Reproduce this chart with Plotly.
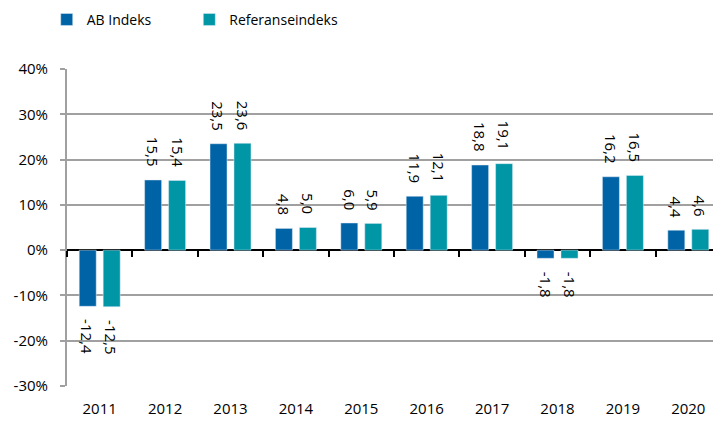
import plotly.graph_objects as go

years = ["2011", "2012", "2013", "2014", "2015", "2016", "2017", "2018", "2019", "2020"]
ab_indeks = [-12.4, 15.5, 23.5, 4.8, 6.0, 11.9, 18.8, -1.8, 16.2, 4.4]
referanseindeks = [-12.5, 15.4, 23.6, 5.0, 5.9, 12.1, 19.1, -1.8, 16.5, 4.6]
y_ticks = [-30, -20, -10, 0, 10, 20, 30, 40]
y_tick_labels = [f"{v}%" for v in y_ticks]

FONT = "Open Sans"
C_AB = "#0063a6"
C_REF = "#0096a6"
N = len(years)
boundaries = [i - 0.5 for i in range(N + 1)]

fig = go.Figure()
fig.add_trace(go.Bar(x=years, y=ab_indeks, name="AB Indeks", marker_color=C_AB, legend="legend"))
fig.add_trace(go.Bar(x=years, y=referanseindeks, name="Referanseindeks", marker_color=C_REF, legend="legend2"))
# helper trace that activates the overlay axis carrying the category tick marks on the zero line
fig.add_trace(go.Scatter(x=[boundaries[0], boundaries[-1]], y=[0, 0], xaxis="x2", mode="lines",
                         line=dict(color="rgba(0,0,0,0)"), showlegend=False, hoverinfo="skip"))

# data labels, rotated (category axis -> annotation x is the category index)
for series, shift in ((ab_indeks, -12), (referanseindeks, 12)):
    for i, v in enumerate(series):
        txt = f"{v:.1f}".replace(".", ",")
        fig.add_annotation(
            x=i, y=v, xref="x", yref="y", text=txt, showarrow=False,
            textangle=90, xshift=shift,
            yanchor="bottom" if v >= 0 else "top",
            yshift=11 if v >= 0 else -11,
            font=dict(family=FONT, size=15, color="#000000"),
        )

leg_common = dict(orientation="h", xanchor="left", y=1.155, yanchor="middle",
                  font=dict(family=FONT, size=14, color="#000000"), bgcolor="rgba(0,0,0,0)")

# the page body adds an 8px margin; the figure is sized to fit the 721x421 window
fig.update_layout(
    width=713, height=413,
    margin=dict(l=59, r=0, t=61, b=35, autoexpand=False),
    paper_bgcolor="white", plot_bgcolor="white",
    barmode="group", bargap=0.267, bargroupgap=0.29,
    font=dict(family=FONT, size=15, color="#000000"),
    showlegend=True,
    legend=dict(x=-0.031, **leg_common),
    legend2=dict(x=0.187, **leg_common),
    xaxis=dict(
        type="category", showgrid=False, zeroline=False, showline=False,
        ticks="", tickfont=dict(family=FONT, size=15), ticklabelstandoff=12,
        range=[boundaries[0], boundaries[-1]],
    ),
    xaxis2=dict(
        overlaying="x", anchor="free", position=3 / 7, range=[boundaries[0], boundaries[-1]],
        tickvals=boundaries, showticklabels=False, showgrid=False, zeroline=False,
        showline=False, ticks="outside", ticklen=6, tickwidth=2, tickcolor="#000000",
    ),
    yaxis=dict(
        range=[-30, 40], tickvals=y_ticks, ticktext=y_tick_labels,
        showgrid=True, gridcolor="#a0a0a0", gridwidth=1.5,
        zeroline=True, zerolinecolor="#000000", zerolinewidth=2,
        showline=True, linecolor="#a0a0a0", linewidth=2,
        ticks="outside", ticklen=5, tickcolor="#a0a0a0", tickwidth=1.5,
        ticklabelstandoff=9,
        tickfont=dict(family=FONT, size=15),
    ),
)

fig.write_html("out.html")
